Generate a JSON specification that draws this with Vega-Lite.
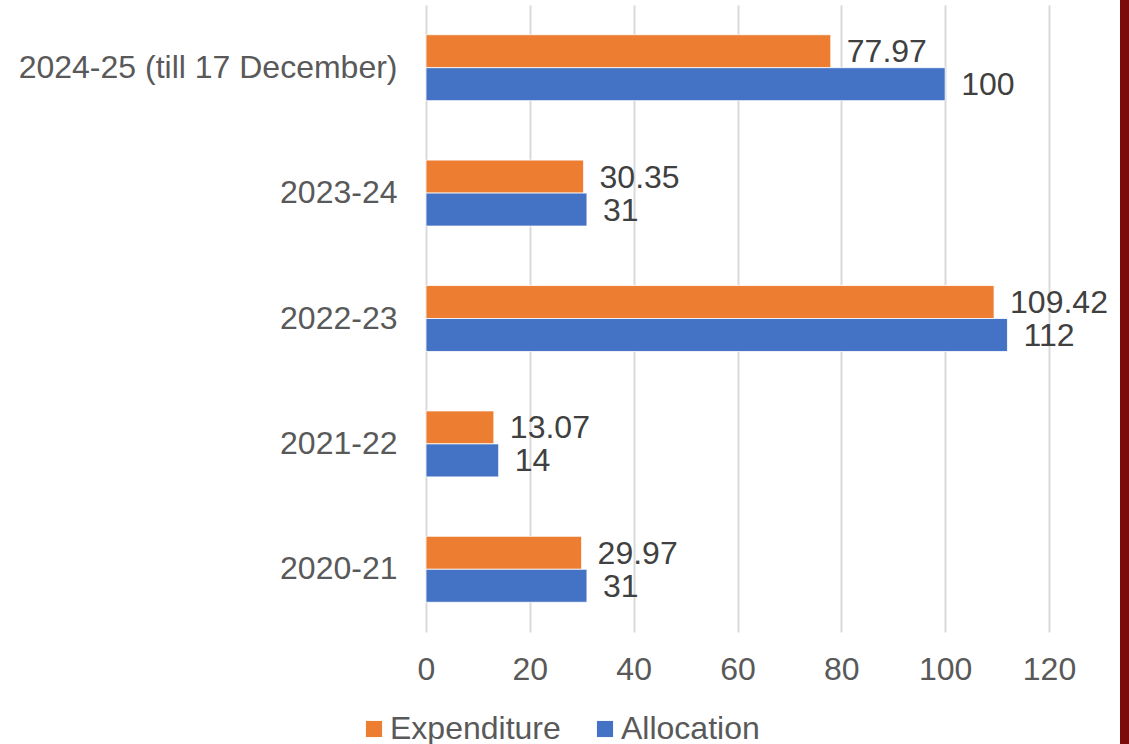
{
  "$schema": "https://vega.github.io/schema/vega-lite/v6.json",
  "autosize": "none",
  "width": 623,
  "height": 627,
  "padding": {"left": 426, "top": 5, "right": 80, "bottom": 112},
  "background": "white",
  "config": {
    "view": {"stroke": null},
    "font": "Liberation Sans"
  },
  "data": {
    "values": [
      {"year": "2024-25 (till 17 December)", "series": "Expenditure", "value": 77.97},
      {"year": "2024-25 (till 17 December)", "series": "Allocation", "value": 100},
      {"year": "2023-24", "series": "Expenditure", "value": 30.35},
      {"year": "2023-24", "series": "Allocation", "value": 31},
      {"year": "2022-23", "series": "Expenditure", "value": 109.42},
      {"year": "2022-23", "series": "Allocation", "value": 112},
      {"year": "2021-22", "series": "Expenditure", "value": 13.07},
      {"year": "2021-22", "series": "Allocation", "value": 14},
      {"year": "2020-21", "series": "Expenditure", "value": 29.97},
      {"year": "2020-21", "series": "Allocation", "value": 31}
    ]
  },
  "layer": [
    {
      "layer": [
        {
          "mark": {"type": "bar", "stroke": "white", "strokeWidth": 0.8},
          "encoding": {
            "y": {
              "field": "year", "type": "nominal",
              "sort": ["2024-25 (till 17 December)", "2023-24", "2022-23", "2021-22", "2020-21"],
              "scale": {"paddingInner": 0.474, "paddingOuter": 0.237},
              "axis": {"title": null, "domain": false, "ticks": false, "labelFontSize": 32, "labelColor": "#595959", "labelPadding": 29, "labelLimit": 500, "grid": false}
            },
            "yOffset": {
              "field": "series", "type": "nominal",
              "sort": ["Expenditure", "Allocation"],
              "scale": {"paddingInner": 0, "paddingOuter": 0}
            },
            "x": {
              "field": "value", "type": "quantitative",
              "scale": {"domain": [0, 120], "nice": false},
              "axis": {"title": null, "values": [0, 20, 40, 60, 80, 100, 120], "domain": false, "ticks": false, "grid": true, "gridColor": "#d9d9d9", "gridWidth": 2, "labelFontSize": 32, "labelColor": "#595959", "labelPadding": 22, "labelFlush": false}
            },
            "color": {
              "field": "series", "type": "nominal",
              "scale": {"domain": ["Expenditure", "Allocation"], "range": ["#ED7D31", "#4472C4"]},
              "legend": {"title": null, "orient": "none", "direction": "horizontal", "legendX": -68, "legendY": 708, "symbolType": "square", "symbolSize": 260, "symbolStrokeWidth": 0, "labelFontSize": 32, "labelColor": "#595959", "labelOffset": 0, "labelLimit": 400, "columnPadding": 28}
            }
          }
        },
        {
          "mark": {"type": "text", "align": "left", "baseline": "middle", "dx": 16, "dy": 1, "fontSize": 32, "color": "#404040"},
          "encoding": {
            "y": {"field": "year", "type": "nominal", "sort": ["2024-25 (till 17 December)", "2023-24", "2022-23", "2021-22", "2020-21"]},
            "yOffset": {"field": "series", "type": "nominal", "sort": ["Expenditure", "Allocation"]},
            "x": {"field": "value", "type": "quantitative"},
            "text": {"field": "value", "type": "nominal"}
          }
        }
      ]
    },
    {
      "mark": {"type": "rule", "color": "#7b0b0b", "strokeWidth": 9},
      "encoding": {
        "x": {"datum": 134.55, "type": "quantitative"},
        "y": {"datum": 1.02, "type": "quantitative", "scale": {"domain": [0, 1], "nice": false, "zero": false}, "axis": null},
        "y2": {"datum": -0.2}
      }
    }
  ],
  "resolve": {"scale": {"y": "independent"}}
}
